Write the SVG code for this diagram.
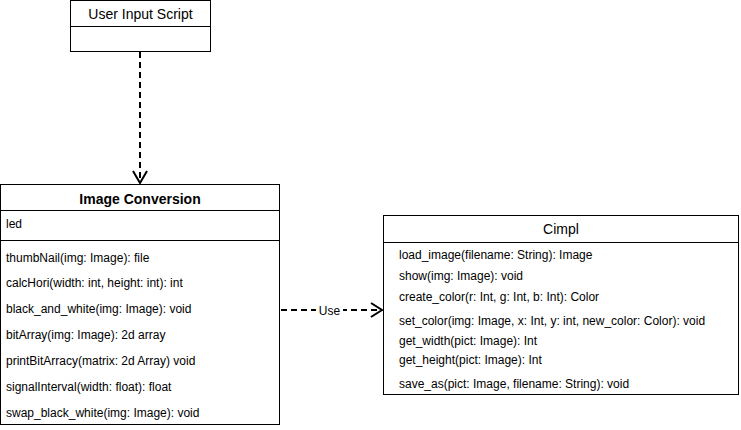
<svg xmlns="http://www.w3.org/2000/svg" width="741" height="430" viewBox="0 0 741 430">
<style>
.box{fill:#fff;stroke:#000;stroke-width:1}
.ln{stroke:#000;stroke-width:1;fill:none}
text{font-family:"Liberation Sans",Arial,sans-serif;font-size:12px;fill:#000;dominant-baseline:central}
.t{font-size:14px}
.b{font-weight:bold;font-size:14px}
.c{text-anchor:middle}
.dash{stroke:#000;stroke-width:2;fill:none;stroke-dasharray:6 4}
.arr{stroke:#000;stroke-width:2;fill:none}
</style>
<rect width="741" height="430" fill="#fff"/>
<g id="connectors">
<path class="dash" d="M140 52V181"/>
<path class="arr" d="M133 171L140 183L147 171"/>
<path class="dash" d="M281 310H381"/>
<path class="arr" d="M371 303L382 310L371 317"/>
<rect x="316" y="303" width="27" height="14" fill="#fff"/>
<text x="329.5" y="310.5" class="c">Use</text>
</g>
<g id="user-input-script">
<rect class="box" x="70.5" y="0.5" width="140" height="51"/>
<path class="ln" d="M70.5 26.5H210.5"/>
<text x="140.5" y="14" class="c t">User Input Script</text>
</g>
<g id="image-conversion">
<rect class="box" x="0.5" y="184.5" width="279" height="240"/>
<path class="ln" d="M0.5 210.5H279.5M0.5 240.5H279.5"/>
<text x="140" y="199" class="c b">Image Conversion</text>
<text x="6" y="224">led</text>
<text x="6" y="258">thumbNail(img: Image): file</text>
<text x="6" y="283">calcHori(width: int, height: int): int</text>
<text x="6" y="309">black_and_white(img: Image): void</text>
<text x="6" y="335">bitArray(img: Image): 2d array</text>
<text x="6" y="361">printBitArracy(matrix: 2d Array) void</text>
<text x="6" y="387">signalInterval(width: float): float</text>
<text x="6" y="413">swap_black_white(img: Image): void</text>
</g>
<g id="cimpl">
<rect class="box" x="383.5" y="215.5" width="355" height="179"/>
<path class="ln" d="M383.5 242.5H738.5"/>
<text x="561" y="229" class="c t">Cimpl</text>
<text x="399" y="255">load_image(filename: String): Image</text>
<text x="399" y="276">show(img: Image): void</text>
<text x="399" y="297">create_color(r: Int, g: Int, b: Int): Color</text>
<text x="399" y="321">set_color(img: Image, x: Int, y: int, new_color: Color): void</text>
<text x="399" y="341">get_width(pict: Image): Int</text>
<text x="399" y="360">get_height(pict: Image): Int</text>
<text x="399" y="384">save_as(pict: Image, filename: String): void</text>
</g>
</svg>
